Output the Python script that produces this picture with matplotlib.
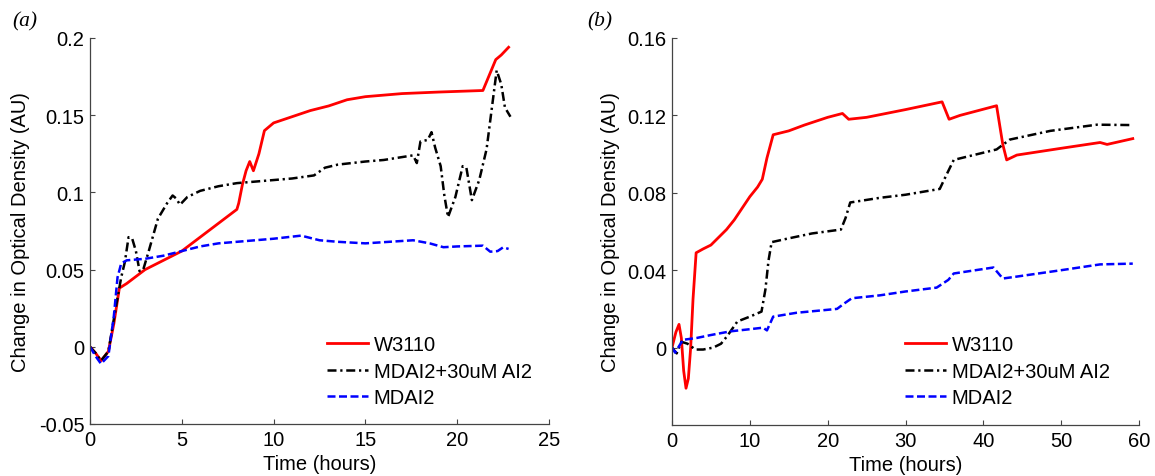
import matplotlib
matplotlib.use("Agg")
import matplotlib.pyplot as plt

plt.rcParams['font.family'] = ['Liberation Sans', 'DejaVu Sans']

# ---------------- data: panel (a) ----------------
a_w3110_t = [0, 0.3, 0.6, 1.0, 1.3, 1.6, 2.0, 3.0, 4.0, 5.0, 6.0, 7.0, 8.0, 8.1, 8.3, 8.5,
             8.7, 8.9, 9.2, 9.5, 10.0, 11.0, 12.0, 13.0, 14.0, 15.0, 17.0, 19.0, 21.4,
             22.1, 22.4, 22.8]
a_w3110_y = [0, -0.004, -0.009, -0.003, 0.015, 0.038, 0.041, 0.050, 0.056, 0.062, 0.071,
             0.080, 0.089, 0.093, 0.105, 0.114, 0.120, 0.114, 0.125, 0.140, 0.145, 0.149,
             0.153, 0.156, 0.160, 0.162, 0.164, 0.165, 0.166, 0.186, 0.189, 0.194]

a_ai2_t = [0, 0.3, 0.6, 1.0, 1.4, 1.7, 1.9, 2.1, 2.3, 2.5, 2.7, 2.9, 3.2, 3.7, 4.2, 4.5,
           4.7, 4.9, 5.3, 6.0, 7.0, 8.0, 9.0, 10.0, 11.0, 12.2, 12.8, 13.5, 15.0, 16.0,
           17.6, 17.8, 18.0, 18.4, 18.6, 18.8, 19.1, 19.3, 19.5, 19.9, 20.3, 20.5, 20.8,
           21.2, 21.6, 22.15, 22.4, 22.6, 22.9]
a_ai2_y = [0, -0.004, -0.009, -0.003, 0.025, 0.045, 0.055, 0.071, 0.070, 0.062, 0.049,
           0.050, 0.062, 0.083, 0.093, 0.098, 0.096, 0.092, 0.097, 0.101, 0.104, 0.106,
           0.107, 0.108, 0.109, 0.111, 0.116, 0.118, 0.120, 0.121, 0.124, 0.119, 0.133,
           0.134, 0.139, 0.129, 0.117, 0.098, 0.084, 0.097, 0.117, 0.116, 0.095, 0.108,
           0.128, 0.179, 0.170, 0.155, 0.149]

a_mdai2_t = [0, 0.3, 0.6, 1.0, 1.3, 1.5, 1.7, 2.0, 3.0, 4.0, 5.0, 6.0, 7.0, 8.0, 9.0, 10.0,
             11.5, 12.5, 13.5, 15.0, 17.6, 18.5, 19.25, 20.0, 21.4, 21.8, 22.2, 22.5, 22.8]
a_mdai2_y = [0, -0.006, -0.011, -0.006, 0.020, 0.045, 0.054, 0.056, 0.057, 0.059, 0.062,
             0.065, 0.067, 0.068, 0.069, 0.070, 0.072, 0.069, 0.068, 0.067, 0.069, 0.067,
             0.0645, 0.065, 0.0655, 0.0616, 0.062, 0.0644, 0.0634]

# ---------------- data: panel (b) ----------------
b_w3110_t = [0, 0.5, 0.9, 1.2, 1.5, 1.8, 2.1, 2.4, 2.7, 3.1, 4.0, 5.0, 6.0, 7.0, 8.0, 9.0,
             10.0, 11.0, 11.6, 12.2, 13.0, 15.0, 17.0, 20.0, 21.9, 22.7, 25.0, 30.0, 34.7,
             35.6, 37.0, 41.7, 42.5, 43.0, 44.3, 50.0, 55.0, 55.9, 59.2]
b_w3110_y = [0, 0.008, 0.012, 0.005, -0.012, -0.021, -0.016, 0.000, 0.025, 0.049, 0.051,
             0.053, 0.057, 0.061, 0.066, 0.072, 0.078, 0.083, 0.087, 0.098, 0.110, 0.112,
             0.115, 0.119, 0.121, 0.118, 0.119, 0.123, 0.127, 0.118, 0.120, 0.125, 0.105,
             0.097, 0.0995, 0.103, 0.106, 0.105, 0.108]

b_ai2_t = [0, 0.6, 1.2, 2.0, 3.0, 4.0, 5.3, 6.3, 7.1, 8.4, 10.0, 11.5, 12.0, 12.4, 12.8,
           14.7, 18.0, 21.7, 22.3, 22.9, 26.7, 30.0, 34.4, 35.3, 36.2, 41.7, 43.4, 48.6,
           54.6, 59.2]
b_ai2_y = [0, -0.003, 0.003, 0.002, -0.001, -0.001, 0.000, 0.002, 0.006, 0.0135, 0.016,
           0.0186, 0.030, 0.045, 0.0545, 0.0562, 0.059, 0.061, 0.067, 0.075, 0.0774,
           0.079, 0.082, 0.0896, 0.097, 0.1024, 0.1075, 0.112, 0.1152, 0.115]

b_mdai2_t = [0, 0.4, 1.4, 3.2, 5.0, 7.5, 10.0, 11.7, 12.2, 13.0, 16.0, 21.2, 22.2, 23.1,
             26.7, 30.0, 34.0, 35.5, 36.2, 41.3, 42.5, 44.3, 50.0, 55.0, 59.2]
b_mdai2_y = [0, -0.0026, 0.004, 0.005, 0.0065, 0.0084, 0.0095, 0.0103, 0.0089, 0.016,
             0.018, 0.020, 0.023, 0.0255, 0.027, 0.029, 0.031, 0.035, 0.0383, 0.0414,
             0.0357, 0.0367, 0.040, 0.043, 0.0434]

labels = ['W3110', 'MDAI2+30uM AI2', 'MDAI2']
a_xticks = [0, 5, 10, 15, 20, 25]
a_yticks = [-0.05, 0, 0.05, 0.1, 0.15, 0.2]
a_yticklabels = ['-0.05', '0', '0.05', '0.1', '0.15', '0.2']
b_xticks = [0, 10, 20, 30, 40, 50, 60]
b_yticks = [0, 0.04, 0.08, 0.12, 0.16]
b_yticklabels = ['0', '0.04', '0.08', '0.12', '0.16']

# ---------------- figure ----------------
W, H = 1155, 477
fig = plt.figure(figsize=(W / 100, H / 100), dpi=100)

ax1 = fig.add_axes([90 / W, 1 - 425 / H, 459 / W, 386 / H])
ax2 = fig.add_axes([672 / W, 1 - 426 / H, 467 / W, 387 / H])

styles = [dict(color='#ff0000', lw=2.0, ls='-'),
          dict(color='#000000', lw=1.8, ls=(0, (3.6, 1.5, 0.9, 1.5))),
          dict(color='#0000ff', lw=1.8, ls=(0, (3.2, 1.4)))]

FS = 14.5

def setup(ax, series, xlim, ylim, xticks, yticks, ytl, leg_x, ylab_x):
    for (t, y), lab, st in zip(series, labels, styles):
        ax.plot(t, y, label=lab, **st)
    ax.set_xlim(*xlim)
    ax.set_ylim(*ylim)
    ax.set_xticks(xticks)
    ax.set_xticklabels([str(v) for v in xticks])
    ax.set_yticks(yticks)
    ax.set_yticklabels(ytl)
    for s in ['top', 'right']:
        ax.spines[s].set_visible(False)
    for s in ['left', 'bottom']:
        ax.spines[s].set_color('#444444')
        ax.spines[s].set_linewidth(0.9)
    ax.tick_params(direction='in', length=3.5, width=0.8, color='#444444',
                   labelsize=FS, pad=4)
    ax.set_xlabel('Time (hours)', fontsize=FS)
    ax.set_ylabel('Change in Optical Density (AU)', fontsize=FS)
    ax.xaxis.set_label_coords(0.5, -0.078)
    ax.yaxis.set_label_coords(ylab_x, 0.5)
    ax.legend(loc='upper left', frameon=False, fontsize=FS, borderpad=0,
              borderaxespad=0, handlelength=2.05, handletextpad=0.27,
              labelspacing=0.38, bbox_to_anchor=(leg_x / W, 1 - 336 / H),
              bbox_transform=fig.transFigure)

setup(ax1, [(a_w3110_t, a_w3110_y), (a_ai2_t, a_ai2_y), (a_mdai2_t, a_mdai2_y)],
      (0, 25), (-0.05, 0.2), a_xticks, a_yticks, a_yticklabels, 327, (30 - 90) / 459)
setup(ax2, [(b_w3110_t, b_w3110_y), (b_ai2_t, b_ai2_y), (b_mdai2_t, b_mdai2_y)],
      (0, 60), (-0.04, 0.16), b_xticks, b_yticks, b_yticklabels, 905, (620 - 672) / 467)

fig.text(25 / W, 1 - 22 / H, '(a)', fontsize=15.5, family='Liberation Serif',
         style='italic', ha='center', va='center')
fig.text(600 / W, 1 - 22 / H, '(b)', fontsize=15.5, family='Liberation Serif',
         style='italic', ha='center', va='center')

fig.savefig('out.png', dpi=100)
